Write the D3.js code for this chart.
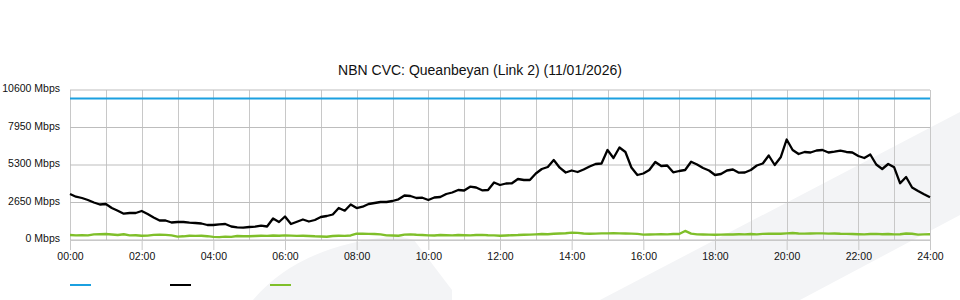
<!DOCTYPE html>
<html>
<head>
<meta charset="utf-8">
<script src="https://cdn.jsdelivr.net/npm/d3@7"></script>
<style>
  body { margin: 0; background: #fff; }
  svg text { font-family: "Liberation Sans", Arial, sans-serif; fill: #111; }
  .grid line { stroke: #c8c8c8; stroke-width: 1; shape-rendering: crispEdges; }
</style>
</head>
<body>
<svg width="960" height="300"></svg>
<script>
// 10 minute samples, 00:00 .. 24:00 (145 points), Mbps
var title = "NBN CVC: Queanbeyan (Link 2) (11/01/2026)";
var yTicks = [0, 2650, 5300, 7950, 10600];
var xTicks = [0, 2, 4, 6, 8, 10, 12, 14, 16, 18, 20, 22, 24];
var capacity = 10000;

var traffic = [
  3250, 3060, 2968, 2827, 2650, 2509, 2544, 2261, 2071, 1858, 1908, 1908,
  2049, 1837, 1590, 1378, 1378, 1237, 1272, 1272, 1223, 1201, 1166, 1060,
  1060, 1109, 1131, 954, 897, 869, 919, 940, 1011, 954, 1519, 1272,
  1661, 1131, 1293, 1449, 1307, 1413, 1625, 1696, 1802, 2261, 2071, 2509,
  2261, 2353, 2544, 2615, 2685, 2685, 2756, 2876, 3145, 3109, 2968, 2989,
  2827, 3003, 3039, 3251, 3357, 3533, 3498, 3767, 3710, 3512, 3533, 4063,
  3887, 3993, 4007, 4311, 4240, 4240, 4699, 5017, 5159, 5653, 5109, 4770,
  4911, 4805, 4982, 5194, 5371, 5406, 6360, 5795, 6537, 6219, 5123, 4593,
  4699, 4947, 5512, 5229, 5265, 4784, 4876, 4947, 5533, 5335, 5088, 4911,
  4593, 4664, 4911, 4982, 4756, 4770, 4947, 5265, 5406, 5971, 5300, 5844,
  7102, 6360, 6077, 6219, 6183, 6325, 6360, 6183, 6240, 6311, 6219, 6183,
  5936, 5795, 6042, 5335, 5017, 5371, 5137, 4007, 4452, 3710, 3463, 3229,
  3017
];

var upload = [
  350, 330, 340, 330, 400, 410, 420, 390, 350, 410, 330, 340,
  300, 310, 360, 370, 360, 330, 240, 260, 300, 290, 300, 270,
  220, 200, 240, 220, 280, 260, 260, 280, 300, 290, 320, 300,
  330, 310, 290, 300, 280, 260, 250, 230, 280, 300, 290, 320,
  450, 440, 430, 420, 400, 330, 320, 300, 380, 400, 370, 350,
  330, 320, 350, 340, 330, 350, 340, 330, 350, 360, 340, 330,
  300, 320, 340, 350, 370, 380, 400, 420, 410, 440, 460, 480,
  520, 500, 460, 440, 450, 470, 470, 480, 470, 460, 450, 430,
  380, 390, 400, 410, 400, 420, 420, 640, 450, 400, 390, 380,
  370, 380, 400, 390, 410, 400, 420, 400, 430, 440, 450, 440,
  470, 490, 460, 450, 460, 470, 470, 450, 460, 440, 430, 420,
  410, 400, 420, 430, 410, 420, 400, 410, 460, 440, 380, 400,
  410
];

var colors = { capacity: "#1ba0e0", traffic: "#000000", upload: "#7fbf2a" };

var svg = d3.select("svg"),
    width = +svg.attr("width"),
    height = +svg.attr("height");

var x = d3.scaleLinear().domain([0, 24]).range([70, 930]);
var y = d3.scaleLinear().domain([0, 10600]).range([240, 90]);

// faint watermark shapes behind the chart
var wm = svg.append("g").attr("fill", "#f3f4f6");
wm.append("path").attr("d", "M253,300 Q300,244 398,236 L414,240 L452,290 L452,300 Z");
wm.append("path").attr("d", "M600,300 L960,112 L960,215 L800,300 Z");

svg.append("text")
    .attr("x", width / 2)
    .attr("y", 75)
    .attr("text-anchor", "middle")
    .style("font-size", "14px")
    .text(title);

// grid
var grid = svg.append("g").attr("class", "grid");
grid.selectAll("line.v")
    .data(d3.range(0, 25))
    .enter().append("line")
      .attr("class", "v")
      .attr("x1", d => Math.round(x(d)) + 0.5).attr("x2", d => Math.round(x(d)) + 0.5)
      .attr("y1", y(10600)).attr("y2", y(0));
grid.selectAll("line.h")
    .data(yTicks)
    .enter().append("line")
      .attr("class", "h")
      .attr("x1", x(0)).attr("x2", x(24))
      .style("shape-rendering", "auto")
      .style("stroke", "#bdbdbd")
      .attr("y1", d => y(d)).attr("y2", d => y(d));

// axes
var xAxis = svg.append("g")
    .attr("transform", "translate(0," + y(0) + ")")
    .call(d3.axisBottom(x).tickValues(xTicks).tickSize(10).tickPadding(3)
      .tickFormat(d => d3.format("02d")(d) + ":00"));
xAxis.select(".domain").attr("stroke", "#c8c8c8");
xAxis.selectAll(".tick line").attr("stroke", "#c8c8c8");
xAxis.selectAll("text").style("font-size", "10.5px").attr("fill", "#111");

var yAxis = svg.append("g")
    .attr("transform", "translate(" + x(0) + ",0)")
    .call(d3.axisLeft(y).tickValues(yTicks).tickSize(0).tickPadding(10)
      .tickFormat(d => d + " Mbps"));
yAxis.select(".domain").remove();
yAxis.selectAll("text").style("font-size", "10.5px").attr("fill", "#111").attr("dy", "0.15em");

// series
var line = d3.line()
    .x((d, i) => x(i / 6))
    .y(d => y(d));

var capData = d3.range(0, 145).map(() => capacity);

svg.append("path").datum(capData)
    .attr("fill", "none").attr("stroke", colors.capacity).attr("stroke-width", 2)
    .attr("d", line);
svg.append("path").datum(upload)
    .attr("fill", "none").attr("stroke", colors.upload).attr("stroke-width", 2.4)
    .attr("stroke-linejoin", "round")
    .attr("d", line);
svg.append("path").datum(traffic)
    .attr("fill", "none").attr("stroke", colors.traffic).attr("stroke-width", 2.3)
    .attr("stroke-linejoin", "round")
    .attr("d", line);

// legend swatches
var legend = svg.append("g");
legend.selectAll("line")
    .data([colors.capacity, colors.traffic, colors.upload])
    .enter().append("line")
      .attr("x1", (d, i) => 70 + i * 100)
      .attr("x2", (d, i) => 91 + i * 100)
      .attr("y1", 285).attr("y2", 285)
      .attr("stroke", d => d)
      .attr("stroke-width", 2);
</script>
</body>
</html>
